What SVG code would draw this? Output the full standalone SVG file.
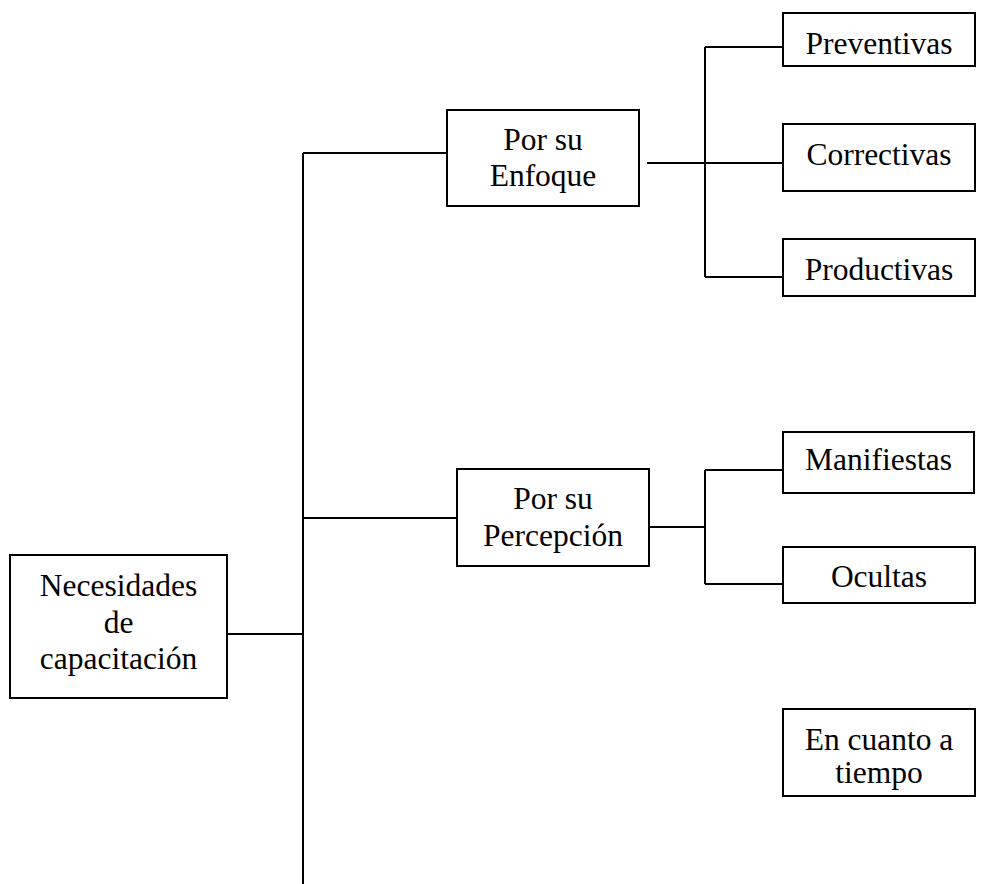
<svg xmlns="http://www.w3.org/2000/svg" width="987" height="884" viewBox="0 0 987 884">
  <style>
    .box { fill: #fff; stroke: #000; stroke-width: 2; }
    .wire { fill: none; stroke: #000; stroke-width: 2; }
    text { font-family: "Liberation Serif", "Times New Roman", serif; font-size: 31.5px; fill: #000; text-anchor: middle; }
  </style>
  <rect width="987" height="884" fill="#fff"/>

  <!-- connectors -->
  <g id="connectors" class="wire">
    <!-- trunk -->
    <path d="M303 153 V884"/>
    <path d="M227 634 H303"/>
    <path d="M303 153 H447"/>
    <path d="M303 518 H457"/>
    <!-- Enfoque branches -->
    <path d="M647 163 H783"/>
    <path d="M705 47 V277"/>
    <path d="M705 47 H783"/>
    <path d="M705 277 H783"/>
    <!-- Percepción branches -->
    <path d="M649 527 H705"/>
    <path d="M705 470 V584"/>
    <path d="M705 470 H783"/>
    <path d="M705 584 H783"/>
  </g>

  <g id="necesidades">
    <rect class="box" x="10" y="555" width="217" height="143"/>
    <text x="118.5" y="596">Necesidades</text>
    <text x="118.5" y="633">de</text>
    <text x="118.5" y="669">capacitación</text>
  </g>

  <g id="enfoque">
    <rect class="box" x="447" y="110" width="192" height="96"/>
    <text x="543" y="150">Por su</text>
    <text x="543" y="186">Enfoque</text>
  </g>

  <g id="percepcion">
    <rect class="box" x="457" y="469" width="192" height="97"/>
    <text x="553" y="509">Por su</text>
    <text x="553" y="546">Percepción</text>
  </g>

  <g id="preventivas">
    <rect class="box" x="783" y="13" width="192" height="53"/>
    <text x="879" y="54">Preventivas</text>
  </g>

  <g id="correctivas">
    <rect class="box" x="783" y="124" width="192" height="67"/>
    <text x="879" y="165">Correctivas</text>
  </g>

  <g id="productivas">
    <rect class="box" x="783" y="239" width="192" height="57"/>
    <text x="879" y="280">Productivas</text>
  </g>

  <g id="manifiestas">
    <rect class="box" x="783" y="432" width="191" height="61"/>
    <text x="878.5" y="470">Manifiestas</text>
  </g>

  <g id="ocultas">
    <rect class="box" x="783" y="547" width="192" height="56"/>
    <text x="879" y="587">Ocultas</text>
  </g>

  <g id="tiempo">
    <rect class="box" x="783" y="709" width="192" height="87"/>
    <text x="879" y="750">En cuanto a</text>
    <text x="879" y="783">tiempo</text>
  </g>
</svg>
